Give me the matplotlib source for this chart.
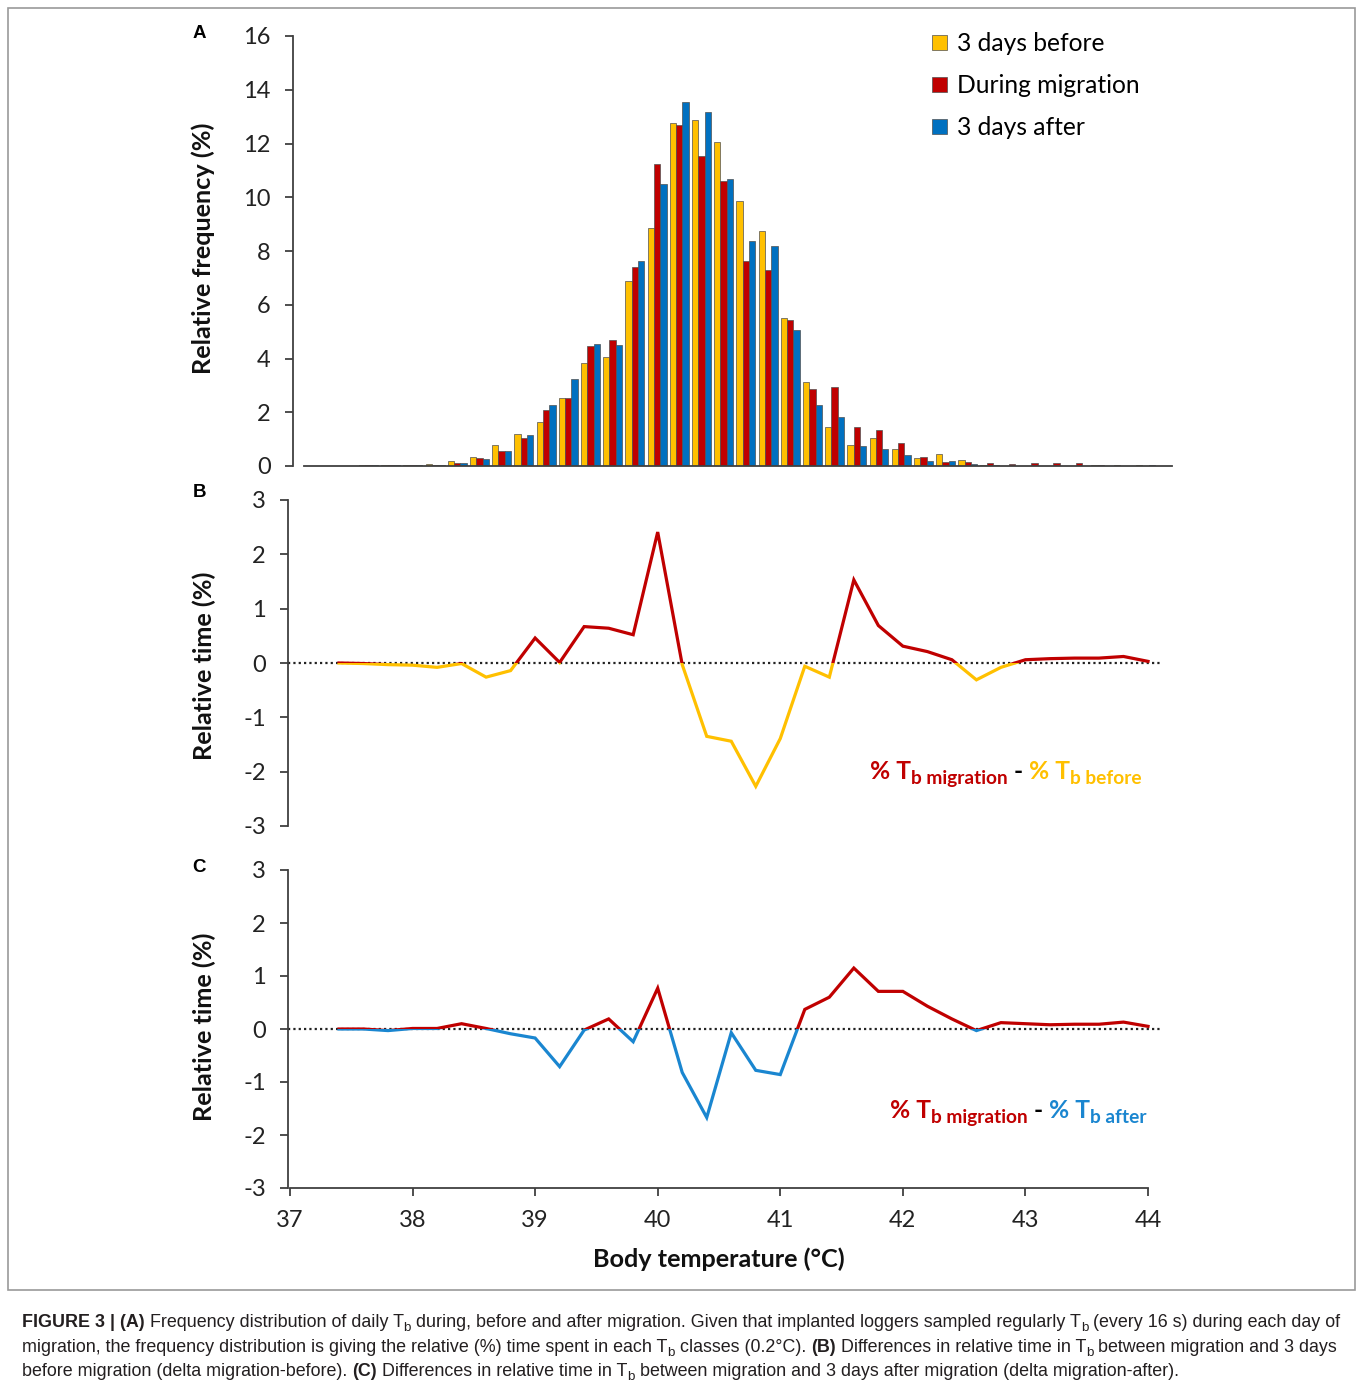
import numpy as np
import matplotlib
matplotlib.use("Agg")
import matplotlib.pyplot as plt
from matplotlib.patches import Rectangle
from matplotlib import font_manager

# body temperature classes (0.2 degC)
classes_a = [37.4, 37.6, 37.8, 38.0, 38.2, 38.4, 38.6, 38.8, 39.0, 39.2, 39.4, 39.6,
             39.8, 40.0, 40.2, 40.4, 40.6, 40.8, 41.0, 41.2, 41.4, 41.6, 41.8, 42.0,
             42.2, 42.4, 42.6, 42.8, 43.0, 43.2, 43.4, 43.6, 43.8, 44.0, 44.2, 44.4]
before = [0.02, 0.02, 0.05, 0.08, 0.20, 0.35, 0.80, 1.20, 1.64, 2.53, 3.82, 4.06,
          6.90, 8.85, 12.76, 12.86, 12.05, 9.87, 8.73, 5.50, 3.11, 1.44, 0.79, 1.04,
          0.64, 0.30, 0.46, 0.22, 0.04, 0.01, 0.01, 0.01, 0.01, 0.02, 0.02, 0.02]
during = [0.02, 0.03, 0.03, 0.03, 0.10, 0.30, 0.54, 1.04, 2.10, 2.53, 4.48, 4.68,
          7.39, 11.25, 12.70, 11.52, 10.59, 7.61, 7.30, 5.45, 2.85, 2.95, 1.46, 1.34,
          0.84, 0.35, 0.16, 0.15, 0.10, 0.09, 0.10, 0.10, 0.13, 0.04, 0.01, 0.01]
after = [0.02, 0.03, 0.05, 0.02, 0.10, 0.25, 0.54, 1.14, 2.27, 3.25, 4.53, 4.52,
         7.64, 10.50, 13.54, 13.19, 10.68, 8.38, 8.17, 5.05, 2.28, 1.81, 0.74, 0.62,
         0.42, 0.19, 0.19, 0.06, 0.02, 0.01, 0.01, 0.01, 0.01, 0.01, 0.01, 0.02]

classes_bc = classes_a[:34]
diff_before = [0.0, -0.01, -0.03, -0.04, -0.08, -0.01, -0.26, -0.14, 0.46, 0.01, 0.67, 0.64,
               0.52, 2.41, -0.03, -1.35, -1.44, -2.27, -1.39, -0.06, -0.26, 1.53, 0.69, 0.31,
               0.21, 0.06, -0.31, -0.08, 0.06, 0.08, 0.09, 0.09, 0.12, 0.03]
diff_after = [0.0, 0.0, -0.03, 0.01, 0.01, 0.10, 0.01, -0.09, -0.17, -0.71, -0.02, 0.19,
              -0.24, 0.77, -0.82, -1.67, -0.07, -0.78, -0.86, 0.37, 0.60, 1.15, 0.71, 0.71,
              0.43, 0.19, -0.03, 0.12, 0.10, 0.08, 0.09, 0.09, 0.13, 0.05]

YELLOW = "#FFC000"
RED = "#C00000"
BLUE = "#0070C0"
LBLUE = "#1A86D0"
AXC = "#404040"

W, H = 1358, 1388
names = {f.name for f in font_manager.fontManager.ttflist}
cap_font = "Liberation Sans Narrow" if "Liberation Sans Narrow" in names else "Liberation Sans"
cap_size = 15.2 if cap_font == "Liberation Sans Narrow" else 12.88

plt.rcParams["font.family"] = ["Lato", "DejaVu Sans"]
plt.rcParams["font.size"] = 17
plt.rcParams["axes.unicode_minus"] = False

fig = plt.figure(figsize=(W / 100, H / 100), dpi=100)


def px_axes(x0, y0, x1, y1):
    # pixel box (top-left origin) -> axes
    return fig.add_axes([x0 / W, 1 - y1 / H, (x1 - x0) / W, (y1 - y0) / H])


def style_ticks(ax):
    ax.tick_params(axis="both", direction="out", length=6, width=1.3, color=AXC,
                   pad=10, labelsize=17, labelcolor="#222222")
    for s in ax.spines.values():
        s.set_color(AXC)
        s.set_linewidth(1.3)


# ---- panel A
axA = px_axes(293, 36, 1172, 466)
x = np.array(classes_a)
bw = 0.057
axA.bar(x - bw, before, bw, color=YELLOW, edgecolor="#505050", linewidth=0.5, label="3 days before")
axA.bar(x, during, bw, color=RED, edgecolor="#505050", linewidth=0.5, label="During migration")
axA.bar(x + bw, after, bw, color=BLUE, edgecolor="#505050", linewidth=0.5, label="3 days after")
axA.set_xlim(36.72, 44.64)
axA.set_ylim(0, 16)
axA.set_yticks(range(0, 17, 2))
axA.set_xticks([])
axA.spines[["top", "right"]].set_visible(False)
axA.spines["bottom"].set_bounds(36.82, 44.64)
style_ticks(axA)
axA.legend(loc="upper left", bbox_to_anchor=(932 / W, 1 - 32 / H), bbox_transform=fig.transFigure,
           frameon=False, fontsize=17.7, handlelength=0.6, handleheight=0.6,
           handletextpad=0.4, labelspacing=0.78, borderpad=0, borderaxespad=0)


def diff_panel(box, yvals, neg_color):
    ax = px_axes(*box)
    xs = np.array(classes_bc)
    # same line twice, red kept above zero and the other colour below
    for col, y0 in [(RED, 0), (neg_color, -10)]:
        ln, = ax.plot(xs, yvals, color=col, lw=2.3, solid_joinstyle="miter")
        ln.set_clip_path(Rectangle((30, y0), 20, 10, transform=ax.transData))
    ax.axhline(0, color="#222222", lw=1.6, ls=(0, (1, 1.4)), zorder=0)
    ax.set_xlim(36.984, 44.114)
    ax.set_ylim(-3, 3)
    ax.set_yticks(range(-3, 4))
    ax.spines[["top", "right"]].set_visible(False)
    style_ticks(ax)
    return ax


axB = diff_panel((288, 500, 1162, 826), diff_before, YELLOW)
axB.spines["bottom"].set_visible(False)
axB.set_xticks([])

axC = diff_panel((288, 870, 1162, 1188), diff_after, LBLUE)
axC.spines["bottom"].set_bounds(37, 44)
axC.set_xticks(range(37, 45))

# axis labels
lab = dict(fontsize=18.2, fontweight="bold", color="#111111", ha="center", va="center")
fig.text(203 / W, 1 - 248 / H, "Relative frequency (%)", rotation=90, **lab)
fig.text(204 / W, 1 - 666 / H, "Relative time (%)", rotation=90, **lab)
fig.text(204 / W, 1 - 1027 / H, "Relative time (%)", rotation=90, **lab)
fig.text(719 / W, 1 - 1259 / H, "Body temperature (°C)", **lab)

for letter, yy in [("A", 33), ("B", 493), ("C", 868)]:
    fig.text(199 / W, 1 - yy / H, letter, fontsize=13.5, fontweight="bold",
             family="Liberation Sans", ha="center", va="center")

renderer = fig.canvas.get_renderer()


def chain(x_px, y_px, pieces, **common):
    # write pieces one after another on one baseline (dy shifts down, in px)
    xx = x_px
    for s, dy, kw in pieces:
        t = fig.text(xx / W, 1 - (y_px + dy) / H, s, ha="left", va="baseline", **common, **kw)
        xx = t.get_window_extent(renderer).x1


big = dict(fontsize=17.7, fontweight="bold")
sub = dict(fontsize=13.8, fontweight="bold")
chain(870, 779, [("% T", 0, dict(color=RED, **big)),
                 ("b migration", 5, dict(color=RED, **sub)),
                 (" -", 0, dict(color="black", **big)),
                 (" % T", 0, dict(color=YELLOW, **big)),
                 ("b before", 5, dict(color=YELLOW, **sub))])
chain(890, 1118, [("% T", 0, dict(color=RED, **big)),
                  ("b migration", 5, dict(color=RED, **sub)),
                  (" -", 0, dict(color="black", **big)),
                  (" % T", 0, dict(color=LBLUE, **big)),
                  ("b after", 5, dict(color=LBLUE, **sub))])

# caption
cap = dict(family=cap_font, color="#231f20")
rg = dict(fontsize=cap_size)
bd = dict(fontsize=cap_size, fontweight="bold")
sb = dict(fontsize=cap_size * 0.75)
chain(22, 1327, [("FIGURE 3 | (A)", 0, bd),
                 (" Frequency distribution of daily T", 0, rg), ("b", 4, sb),
                 (" during, before and after migration. Given that implanted loggers sampled regularly T", 0, rg),
                 ("b", 4, sb), (" (every 16 s) during each day of", 0, rg)], **cap)
chain(22, 1352, [("migration, the frequency distribution is giving the relative (%) time spent in each T", 0, rg),
                 ("b", 4, sb), (" classes (0.2°C). ", 0, rg), ("(B)", 0, bd),
                 (" Differences in relative time in T", 0, rg), ("b", 4, sb),
                 (" between migration and 3 days", 0, rg)], **cap)
chain(22, 1376, [("before migration (delta migration-before). ", 0, rg), ("(C)", 0, bd),
                 (" Differences in relative time in T", 0, rg), ("b", 4, sb),
                 (" between migration and 3 days after migration (delta migration-after).", 0, rg)], **cap)

# figure frame
fig.patches.append(Rectangle((8 / W, 1 - 1290 / H), (1355 - 8) / W, (1290 - 8) / H,
                             transform=fig.transFigure, fill=False, edgecolor="#9a9a9a", lw=1.2))

fig.savefig("out.png", dpi=100)
